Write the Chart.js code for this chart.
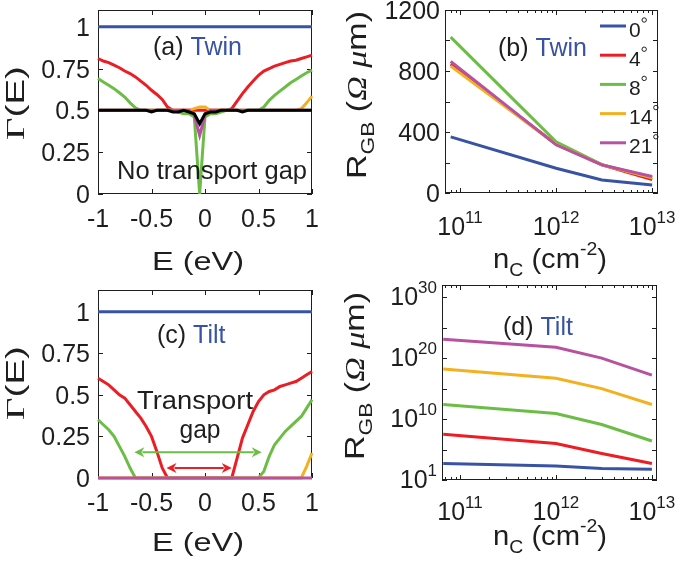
<!DOCTYPE html>
<html>
<head>
<meta charset="utf-8">
<script src="https://cdn.jsdelivr.net/npm/chart.js@4.4.1/dist/chart.umd.min.js"></script>
<style>
  html, body { margin: 0; padding: 0; background: #fff; }
  #wrap { position: relative; width: 685px; height: 563px; overflow: hidden; }
  #wrap canvas { position: absolute; left: 0; top: 0; }
</style>
</head>
<body>
<div id="wrap">
  <canvas id="panelA" width="685" height="563"></canvas>
  <canvas id="panelB" width="685" height="563"></canvas>
  <canvas id="panelC" width="685" height="563"></canvas>
  <canvas id="panelD" width="685" height="563"></canvas>
</div>
<script>
// ---------- data ----------
var energy = [-1, -0.95, -0.9, -0.85, -0.8, -0.75, -0.7, -0.65, -0.6, -0.55, -0.5, -0.45, -0.4, -0.35, -0.3, -0.25, -0.2, -0.15, -0.1, -0.05,
  0, 0.05, 0.1, 0.15, 0.2, 0.25, 0.3, 0.35, 0.4, 0.45, 0.5, 0.55, 0.6, 0.65, 0.7, 0.75, 0.8, 0.85, 0.9, 0.95, 1];

// (a) twin boundaries, transmission
var twin0 = [1, 1, 1, 1, 1, 1, 1, 1, 1, 1, 1, 1, 1, 1, 1, 1, 1, 1, 1, 1, 1, 1, 1, 1, 1, 1, 1, 1, 1, 1, 1, 1, 1, 1, 1, 1, 1, 1, 1, 1, 1];
var twin4 = [0.81, 0.795, 0.785, 0.77, 0.755, 0.735, 0.72, 0.70, 0.675, 0.65, 0.62, 0.595, 0.565, 0.52, 0.5,
  0.5, 0.5, 0.5, 0.5, 0.5, 0.5, 0.5, 0.5, 0.5, 0.5,
  0.51, 0.555, 0.6, 0.64, 0.675, 0.71, 0.735, 0.75, 0.765, 0.775, 0.785, 0.795, 0.80, 0.81, 0.82, 0.83];
var twin8 = [0.69, 0.67, 0.65, 0.63, 0.605, 0.58, 0.545, 0.515, 0.5, 0.5, 0.5, 0.5, 0.5, 0.5, 0.5, 0.49, 0.48, 0.48, 0.46, 0,
  0.46, 0.48, 0.48, 0.49, 0.5, 0.5, 0.5, 0.5, 0.5, 0.5, 0.5, 0.52, 0.56, 0.59, 0.615, 0.64, 0.665, 0.685, 0.705, 0.725, 0.74];
var twin14 = [0.5, 0.5, 0.5, 0.5, 0.5, 0.5, 0.5, 0.5, 0.5, 0.5, 0.5, 0.5, 0.5, 0.5, 0.5, 0.5, 0.5, 0.5, 0.51, 0.52,
  0.52, 0.5, 0.5, 0.5, 0.5, 0.5, 0.5, 0.5, 0.5, 0.5, 0.5, 0.5, 0.5, 0.5, 0.5, 0.5, 0.5, 0.5, 0.51, 0.545, 0.585];
var twin21 = [0.5, 0.5, 0.5, 0.5, 0.5, 0.5, 0.5, 0.5, 0.5, 0.5, 0.5, 0.5, 0.5, 0.5, 0.5, 0.5, 0.5, 0.5, 0.47, 0.35,
  0.47, 0.5, 0.5, 0.5, 0.5, 0.5, 0.5, 0.5, 0.5, 0.5, 0.5, 0.5, 0.5, 0.5, 0.5, 0.5, 0.5, 0.5, 0.5, 0.5, 0.5];
var twinBlack = [0.5, 0.5, 0.5, 0.5, 0.5, 0.5, 0.5, 0.5, 0.5, 0.5, 0.49, 0.5, 0.5, 0.5, 0.49, 0.49, 0.5, 0.49, 0.48, 0.42,
  0.48, 0.49, 0.49, 0.5, 0.5, 0.5, 0.5, 0.49, 0.5, 0.5, 0.5, 0.5, 0.5, 0.5, 0.5, 0.5, 0.5, 0.5, 0.5, 0.5, 0.5];

// (c) tilt boundaries, transmission
var tilt0 = [1, 1, 1, 1, 1, 1, 1, 1, 1, 1, 1, 1, 1, 1, 1, 1, 1, 1, 1, 1, 1, 1, 1, 1, 1, 1, 1, 1, 1, 1, 1, 1, 1, 1, 1, 1, 1, 1, 1, 1, 1];
var tilt4 = [0.60, 0.58, 0.56, 0.53, 0.50, 0.48, 0.44, 0.40, 0.36, 0.31, 0.25, 0.16, 0.06,
  0, 0, 0, 0, 0, 0, 0, 0, 0, 0, 0, 0, 0,
  0.12, 0.24, 0.32, 0.40, 0.46, 0.50, 0.52, 0.53, 0.55, 0.56, 0.57, 0.58, 0.60, 0.62, 0.64];
var tilt8 = [0.35, 0.32, 0.29, 0.25, 0.19, 0.13, 0.06,
  0, 0, 0, 0, 0, 0, 0, 0, 0, 0, 0, 0, 0, 0, 0, 0, 0, 0, 0, 0, 0, 0, 0, 0,
  0.04, 0.13, 0.20, 0.24, 0.28, 0.31, 0.34, 0.37, 0.42, 0.47];
var tilt14 = [0, 0, 0, 0, 0, 0, 0, 0, 0, 0, 0, 0, 0, 0, 0, 0, 0, 0, 0, 0, 0, 0, 0, 0, 0, 0, 0, 0, 0, 0, 0, 0, 0, 0, 0, 0, 0, 0, 0, 0.07, 0.15];
var tilt21 = [0, 0, 0, 0, 0, 0, 0, 0, 0, 0, 0, 0, 0, 0, 0, 0, 0, 0, 0, 0, 0, 0, 0, 0, 0, 0, 0, 0, 0, 0, 0, 0, 0, 0, 0, 0, 0, 0, 0, 0, 0];

// transport gap arrows in (c): [from E, to E, at Gamma]
var gapArrow8 = [-0.66, 0.53, 0.155];
var gapArrow4 = [-0.36, 0.25, 0.06];

// (b) twin resistance, Ohm um
var nTwin = [8e10, 1e12, 3e12, 1e13];
var rTwin0 = [368, 162, 85, 52];
var rTwin4 = [845, 320, 185, 88];
var rTwin8 = [1022, 336, 186, 102];
var rTwin14 = [832, 318, 184, 100];
var rTwin21 = [862, 316, 184, 108];

// (d) tilt resistance, Ohm um
var nTilt = [6.7e10, 1e12, 3e12, 1e13];
var rTilt0 = [5e2, 2e2, 80, 60];
var rTilt4 = [3.2e7, 1e6, 2.2e4, 5e2];
var rTilt8 = [2.5e12, 8e10, 1.3e9, 2.5e6];
var rTilt14 = [1.6e18, 5e16, 1e15, 2.5e12];
var rTilt21 = [1.3e23, 6e21, 1e20, 1.6e17];

var angleLabels = ['0', '4', '8', '14', '21'];
var eTicks = [-1, -0.5, 0, 0.5, 1];
var eTickLabels = ['-1', '-0.5', '0', '0.5', '1'];
var gTicks = [0, 0.25, 0.5, 0.75, 1];
var gTickLabels = ['0', '0.25', '0.5', '0.75', '1'];
var nTicks = [1e11, 1e12, 1e13];
var nTickExps = ['11', '12', '13'];
var rTwinTicks = [0, 200, 400, 600, 800, 1000, 1200];
var rTwinLabelTicks = [0, 400, 800, 1200];
var rTiltTicks = [1, 1e5, 1e10, 1e15, 1e20, 1e25, 1e30];
var rTiltLabelTicks = [1, 1e10, 1e20, 1e30];
var rTiltLabelExps = ['1', '10', '20', '30'];

// ---------- styling ----------
var BLUE = '#3953a4', RED = '#ec1d25', GREEN = '#6cbd45', ORANGE = '#f3b120', MAGENTA = '#b8519f', BLACK = '#000000';
var INK = '#1e1e1e';
var SANS = '"Liberation Sans", Arial, Helvetica, sans-serif';
var SERIF = '"Liberation Serif", "Times New Roman", serif';
var W = 685, H = 563;

function fontOf(size, p) {
  var fam = p && p[3] === 'serif' ? SERIF : SANS;
  var sty = p && p[4] ? p[4] + ' ' : '';
  return sty + size + 'px ' + fam;
}

// parts: [text, kind, color, family, style]; kind '' | 'sub' | 'sup'
function partSize(size, kind) { return kind ? Math.round(size * 0.68) : size; }
function richWidth(ctx, parts, size) {
  var w = 0;
  parts.forEach(function (p) { ctx.font = fontOf(partSize(size, p[1]), p); w += ctx.measureText(p[0]).width; });
  return w;
}
// fit: optional width the text is stretched to along its direction
function drawRich(ctx, parts, x, y, size, align, rotate, fit) {
  ctx.save();
  ctx.translate(x, y);
  if (rotate) ctx.rotate(-Math.PI / 2);
  var w = richWidth(ctx, parts, size);
  var k = fit ? fit / w : 1;
  ctx.scale(k, 1);
  var cx = align === 'center' ? -w / 2 : (align === 'right' ? -w : 0);
  ctx.textAlign = 'left';
  ctx.textBaseline = 'alphabetic';
  parts.forEach(function (p) {
    var s = partSize(size, p[1]);
    var dy = p[1] === 'sup' ? -size * 0.5 : (p[1] === 'sub' ? size * 0.3 : 0);
    ctx.font = fontOf(s, p);
    ctx.fillStyle = p[2] || INK;
    ctx.fillText(p[0], cx, dy);
    cx += ctx.measureText(p[0]).width;
  });
  ctx.restore();
}

function logMinor(lo, hi) {
  var out = [];
  for (var d = Math.floor(Math.log10(lo)); d <= Math.ceil(Math.log10(hi)); d++) {
    for (var m = 2; m <= 9; m++) {
      var v = m * Math.pow(10, d);
      if (v > lo && v < hi) out.push(v);
    }
  }
  return out;
}

// box, inward ticks and tick labels
function drawFrame(chart, f) {
  var ctx = chart.ctx, a = chart.chartArea, xs = chart.scales.x, ys = chart.scales.y;
  ctx.save();
  ctx.strokeStyle = INK;
  ctx.lineWidth = 1;
  ctx.beginPath();
  function xt(v, len) {
    var p = Math.round(xs.getPixelForValue(v)) + 0.5;
    ctx.moveTo(p, a.bottom); ctx.lineTo(p, a.bottom - len);
    ctx.moveTo(p, a.top); ctx.lineTo(p, a.top + len);
  }
  function yt(v, len) {
    var p = Math.round(ys.getPixelForValue(v)) + 0.5;
    ctx.moveTo(a.left, p); ctx.lineTo(a.left + len, p);
    ctx.moveTo(a.right, p); ctx.lineTo(a.right - len, p);
  }
  f.xTicks.forEach(function (v) { xt(v, 5); });
  (f.xMinor || []).forEach(function (v) { xt(v, 3); });
  f.yTicks.forEach(function (v) { yt(v, 5); });
  ctx.stroke();
  ctx.strokeRect(a.left + 0.5, a.top + 0.5, a.right - a.left - 1, a.bottom - a.top - 1);
  f.xLabels.forEach(function (l) {
    drawRich(ctx, l[1], xs.getPixelForValue(l[0]), a.bottom + f.xLabelDrop, f.tickSize, 'center');
  });
  f.yLabels.forEach(function (l) {
    drawRich(ctx, l[1], a.left - f.yLabelGap, ys.getPixelForValue(l[0]) + f.yLabelShift, f.tickSize, 'right');
  });
  ctx.restore();
}

function series(xs, ys, color, i, n) {
  return {
    data: xs.map(function (x, k) { return { x: x, y: ys[k] }; }),
    borderColor: color, backgroundColor: color, borderWidth: 3,
    pointRadius: 0, tension: 0, fill: false, clip: 6, order: n - i
  };
}

function makeChart(id, rect, xScale, yScale, sets, decor) {
  var n = sets.length;
  return new Chart(document.getElementById(id), {
    type: 'line',
    data: { datasets: sets.map(function (s, i) { return series(s[0], s[1], s[2], i, n); }) },
    options: {
      responsive: false, animation: false, events: [],
      layout: { padding: { left: rect[0], top: rect[1], right: W - rect[2], bottom: H - rect[3] } },
      scales: { x: Object.assign({ display: false }, xScale), y: Object.assign({ display: false }, yScale) },
      plugins: { legend: { display: false }, tooltip: { enabled: false }, title: { display: false } }
    },
    plugins: [{
      id: 'decor_' + id,
      beforeDatasetsDraw: function (chart) { drawFrame(chart, decor.frame); if (decor.before) decor.before(chart); },
      afterDatasetsDraw: function (chart) { if (decor.after) decor.after(chart); }
    }]
  });
}

function plain(s) { return [[s, '']]; }
function pow10(e) { return [['10', ''], [e, 'sup']]; }

var gammaTitle = [['\u0393', '', null, 'serif'], ['(E)', '']];
var energyTitle = [['E (eV)', '']];
var rTitle = [['R', ''], ['GB', 'sub'], [' (', ''], ['\u03A9 \u03BC', '', null, 'serif', 'italic'], ['m)', '']];
var nTitle = [['n', ''], ['C', 'sub'], [' (cm', ''], ['-2', 'sup'], [')', '']];

var TICK = 25;
var linFrame = {
  xTicks: eTicks, yTicks: gTicks, tickSize: TICK, xLabelDrop: 33, yLabelGap: 8, yLabelShift: 9,
  xLabels: eTicks.map(function (v, i) { return [v, plain(eTickLabels[i])]; }),
  yLabels: gTicks.map(function (v, i) { return [v, plain(gTickLabels[i])]; })
};

// ---------- (a) ----------
makeChart('panelA', [98, 10, 312, 194],
  { type: 'linear', min: -1, max: 1 }, { type: 'linear', min: 0, max: 1.1 },
  [[energy, twin0, BLUE], [energy, twin4, RED], [energy, twin8, GREEN], [energy, twin14, ORANGE], [energy, twin21, MAGENTA], [energy, twinBlack, BLACK]],
  {
    frame: linFrame,
    after: function (chart) {
      var ctx = chart.ctx;
      drawRich(ctx, [['(a) ', ''], ['Twin', '', BLUE]], 153, 55, 25, 'left');
      drawRich(ctx, plain('No transport gap'), 212, 179, 25, 'center', false, 190);
      drawRich(ctx, energyTitle, 198, 270, 26, 'center', false, 92);
      drawRich(ctx, gammaTitle, 24, 103, 26, 'center', true, 74);
    }
  });

// ---------- (c) ----------
function arrow(ctx, x1, x2, y, color) {
  var h = 10, hw = 5;
  ctx.save();
  ctx.strokeStyle = color; ctx.fillStyle = color; ctx.lineWidth = 2;
  ctx.beginPath(); ctx.moveTo(x1 + h - 2, y); ctx.lineTo(x2 - h + 2, y); ctx.stroke();
  ctx.beginPath(); ctx.moveTo(x1, y); ctx.lineTo(x1 + h, y - hw); ctx.lineTo(x1 + h - 3, y); ctx.lineTo(x1 + h, y + hw); ctx.closePath(); ctx.fill();
  ctx.beginPath(); ctx.moveTo(x2, y); ctx.lineTo(x2 - h, y - hw); ctx.lineTo(x2 - h + 3, y); ctx.lineTo(x2 - h, y + hw); ctx.closePath(); ctx.fill();
  ctx.restore();
}

makeChart('panelC', [98, 290, 312, 478],
  { type: 'linear', min: -1, max: 1 }, { type: 'linear', min: 0, max: 1.13 },
  [[energy, tilt0, BLUE], [energy, tilt4, RED], [energy, tilt8, GREEN], [energy, tilt14, ORANGE], [energy, tilt21, MAGENTA]],
  {
    frame: linFrame,
    after: function (chart) {
      var ctx = chart.ctx, xs = chart.scales.x, ys = chart.scales.y;
      arrow(ctx, xs.getPixelForValue(gapArrow8[0]), xs.getPixelForValue(gapArrow8[1]), ys.getPixelForValue(gapArrow8[2]), GREEN);
      arrow(ctx, xs.getPixelForValue(gapArrow4[0]), xs.getPixelForValue(gapArrow4[1]), ys.getPixelForValue(gapArrow4[2]), RED);
      drawRich(ctx, [['(c) ', ''], ['Tilt', '', BLUE]], 157, 343, 25, 'left');
      drawRich(ctx, plain('Transport'), 195, 409, 26, 'center', false, 116);
      drawRich(ctx, plain('gap'), 200, 438, 26, 'center', false, 41);
      drawRich(ctx, energyTitle, 198, 551, 26, 'center', false, 92);
      drawRich(ctx, gammaTitle, 24, 383, 26, 'center', true, 74);
    }
  });

// ---------- (b) ----------
var twinColors = [BLUE, RED, GREEN, ORANGE, MAGENTA];
makeChart('panelB', [445, 10, 658, 193],
  { type: 'logarithmic', min: 6.98e10, max: 1.15e13 }, { type: 'linear', min: 0, max: 1200 },
  [[nTwin, rTwin0, BLUE], [nTwin, rTwin4, RED], [nTwin, rTwin8, GREEN], [nTwin, rTwin14, ORANGE], [nTwin, rTwin21, MAGENTA]],
  {
    frame: {
      xTicks: nTicks, xMinor: logMinor(6.98e10, 1.15e13), yTicks: rTwinTicks, tickSize: TICK,
      xLabelDrop: 42, yLabelGap: 5, yLabelShift: 9,
      xLabels: nTicks.map(function (v, i) { return [v, pow10(nTickExps[i])]; }),
      yLabels: rTwinLabelTicks.map(function (v) { return [v, plain(String(v))]; })
    },
    after: function (chart) {
      var ctx = chart.ctx;
      drawRich(ctx, [['(b) ', ''], ['Twin', '', BLUE]], 498, 56, 25, 'left');
      drawRich(ctx, nTitle, 550, 268, 27, 'center', false, 114);
      drawRich(ctx, rTitle, 366, 95, 27, 'center', true, 168);
      // legend
      ctx.save();
      angleLabels.forEach(function (lab, i) {
        var y = 26 + i * 29.2;
        ctx.strokeStyle = twinColors[i]; ctx.lineWidth = 3;
        ctx.beginPath(); ctx.moveTo(600, y); ctx.lineTo(626, y); ctx.stroke();
        ctx.font = fontOf(21);
        ctx.fillStyle = INK; ctx.textAlign = 'left'; ctx.textBaseline = 'alphabetic';
        ctx.fillText(lab, 629, y + 10.5);
        var w = ctx.measureText(lab).width;
        ctx.strokeStyle = INK; ctx.lineWidth = 1;
        ctx.beginPath(); ctx.arc(629 + w + 3.5, y - 6, 2.2, 0, Math.PI * 2); ctx.stroke();
      });
      ctx.restore();
    }
  });

// ---------- (d) ----------
makeChart('panelD', [442, 285, 657, 480],
  { type: 'logarithmic', min: 6.5e10, max: 1.13e13 }, { type: 'logarithmic', min: 1, max: 1e32 },
  [[nTilt, rTilt0, BLUE], [nTilt, rTilt4, RED], [nTilt, rTilt8, GREEN], [nTilt, rTilt14, ORANGE], [nTilt, rTilt21, MAGENTA]],
  {
    frame: {
      xTicks: nTicks, xMinor: logMinor(6.5e10, 1.13e13), yTicks: rTiltTicks, tickSize: TICK,
      xLabelDrop: 40, yLabelGap: 5, yLabelShift: 8,
      xLabels: nTicks.map(function (v, i) { return [v, pow10(nTickExps[i])]; }),
      yLabels: rTiltLabelTicks.map(function (v, i) { return [v, pow10(rTiltLabelExps[i])]; })
    },
    after: function (chart) {
      var ctx = chart.ctx;
      drawRich(ctx, [['(d) ', ''], ['Tilt', '', BLUE]], 503, 335, 25, 'left');
      drawRich(ctx, nTitle, 550, 545, 27, 'center', false, 114);
      drawRich(ctx, rTitle, 364, 376, 27, 'center', true, 168);
    }
  });
</script>
</body>
</html>
